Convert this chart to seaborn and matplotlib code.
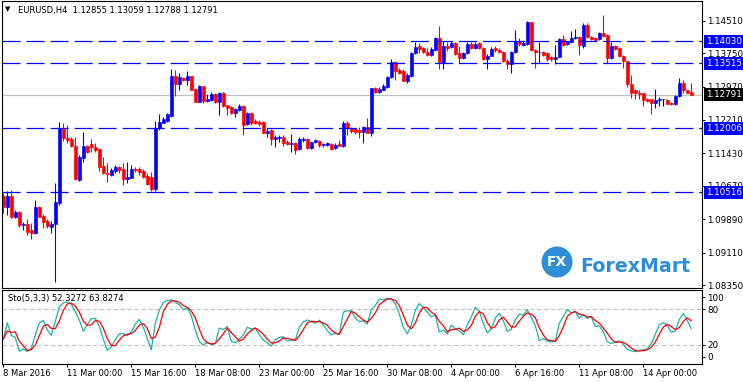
import numpy as np
import pandas as pd
import seaborn as sns
import matplotlib
matplotlib.use("Agg")
import matplotlib.pyplot as plt
from matplotlib.patches import Ellipse

sns.set_style("white", {"axes.edgecolor": "black"})
plt.rcParams['font.family'] = ['DejaVu Sans']
plt.rcParams['lines.scale_dashes'] = False

# EURUSD H4 candles
opens = [1.10431, 1.10167, 1.10431, 1.09950, 1.10058, 1.09756, 1.09787, 1.09639, 1.09577, 1.10167,
         1.09965, 1.09849, 1.09717, 1.09771, 1.10276, 1.12006, 1.11789, 1.11750, 1.11595, 1.10803,
         1.11323, 1.11595, 1.11641, 1.11572, 1.11517, 1.11129, 1.10974, 1.10912, 1.11013, 1.11106,
         1.11060, 1.10819, 1.10858, 1.11067, 1.11052, 1.11013, 1.10904, 1.10866, 1.10602, 1.12006,
         1.12139, 1.12178, 1.12302, 1.13231, 1.13043, 1.13176, 1.13121, 1.13215, 1.12926, 1.12630,
         1.12981, 1.12653, 1.12669, 1.12802, 1.12630, 1.12825, 1.12552, 1.12513, 1.12373, 1.12435,
         1.12529, 1.12100, 1.12373, 1.12185, 1.12162, 1.12162, 1.11889, 1.11967, 1.11747, 1.11770,
         1.11810, 1.11684, 1.11637, 1.11668, 1.11519, 1.11731, 1.11755, 1.11551, 1.11676, 1.11716,
         1.11614, 1.11614, 1.11637, 1.11551, 1.11637, 1.11598, 1.12124, 1.12006, 1.11982, 1.11967,
         1.11912, 1.12030, 1.11904, 1.12948, 1.12854, 1.12909, 1.12972, 1.13207, 1.13560, 1.13364,
         1.13340, 1.13105, 1.13226, 1.13749, 1.13913, 1.13866, 1.13788, 1.13718, 1.13835, 1.14100,
         1.13554, 1.13913, 1.13889, 1.13983, 1.13757, 1.13632, 1.13749, 1.13967, 1.13866, 1.13983,
         1.13866, 1.13616, 1.13694, 1.13866, 1.13835, 1.13772, 1.13577, 1.13499, 1.13772, 1.14030,
         1.13944, 1.13967, 1.14474, 1.13835, 1.13772, 1.13788, 1.13749, 1.13655, 1.13616, 1.13671,
         1.14084, 1.13967, 1.14006, 1.14100, 1.14139, 1.13928, 1.14420, 1.14139, 1.14108, 1.14084,
         1.14217, 1.14178, 1.13640, 1.13913, 1.13874, 1.13694, 1.13562, 1.13031, 1.12891, 1.12836,
         1.12821, 1.12696, 1.12680, 1.12602, 1.12665, 1.12680, 1.12665, 1.12602, 1.12563, 1.12759,
         1.13055, 1.12891, 1.12855]
highs = [1.10493, 1.10547, 1.10571, 1.10105, 1.10070, 1.09833, 1.09896, 1.09795, 1.10338, 1.10198,
         1.10012, 1.09888, 1.09841, 1.10726, 1.12146, 1.12123, 1.12084, 1.11797, 1.11797, 1.11385,
         1.11913, 1.11618, 1.11750, 1.11657, 1.11556, 1.11331, 1.11207, 1.11075, 1.11153, 1.11129,
         1.11207, 1.11222, 1.11153, 1.11114, 1.11098, 1.11052, 1.10974, 1.10997, 1.12177, 1.12334,
         1.12279, 1.12357, 1.13394, 1.13371, 1.13293, 1.13192, 1.13348, 1.13231, 1.12940, 1.13020,
         1.12995, 1.12802, 1.12841, 1.12825, 1.12848, 1.12848, 1.12560, 1.12520, 1.12474, 1.12575,
         1.12540, 1.12380, 1.12380, 1.12217, 1.12201, 1.12170, 1.12006, 1.11990, 1.11849, 1.11849,
         1.11849, 1.11731, 1.11865, 1.11692, 1.11810, 1.11794, 1.11770, 1.11692, 1.11763, 1.11731,
         1.11668, 1.11692, 1.11653, 1.11653, 1.11731, 1.12179, 1.12187, 1.12045, 1.12006, 1.12030,
         1.12061, 1.12242, 1.12948, 1.12964, 1.12964, 1.13026, 1.13223, 1.13615, 1.13576, 1.13419,
         1.13395, 1.13301, 1.13772, 1.14006, 1.13991, 1.13889, 1.13866, 1.13889, 1.14123, 1.14381,
         1.14030, 1.14006, 1.14045, 1.14006, 1.13913, 1.13772, 1.14006, 1.14006, 1.14006, 1.14006,
         1.13889, 1.13733, 1.13905, 1.13913, 1.13866, 1.13811, 1.13616, 1.13811, 1.14295, 1.14100,
         1.14045, 1.14513, 1.14474, 1.13850, 1.14006, 1.13811, 1.13772, 1.13694, 1.13944, 1.14100,
         1.14178, 1.14022, 1.14264, 1.14318, 1.14162, 1.14451, 1.14451, 1.14162, 1.14139, 1.14240,
         1.14646, 1.14200, 1.14006, 1.13944, 1.13905, 1.13710, 1.13577, 1.13242, 1.12915, 1.12891,
         1.12836, 1.12719, 1.12696, 1.12930, 1.12743, 1.12696, 1.12680, 1.12618, 1.12782, 1.13172,
         1.13125, 1.12891, 1.13059]
lows = [1.10027, 1.09989, 1.09911, 1.09911, 1.09717, 1.09639, 1.09523, 1.09430, 1.09546, 1.09934,
        1.09694, 1.09694, 1.09577, 1.08437, 1.10229, 1.11719, 1.11673, 1.11579, 1.10803, 1.10780,
        1.11230, 1.11440, 1.11463, 1.11463, 1.11013, 1.10935, 1.10765, 1.10897, 1.10959, 1.10974,
        1.10695, 1.10741, 1.10842, 1.10997, 1.10920, 1.10842, 1.10687, 1.10555, 1.10555, 1.11967,
        1.12123, 1.12162, 1.12279, 1.12747, 1.12887, 1.13098, 1.13020, 1.12887, 1.12614, 1.12614,
        1.12591, 1.12614, 1.12653, 1.12591, 1.12318, 1.12513, 1.12318, 1.12341, 1.12263, 1.12419,
        1.11850, 1.12084, 1.12084, 1.12100, 1.12068, 1.11889, 1.11795, 1.11616, 1.11574, 1.11692,
        1.11590, 1.11614, 1.11457, 1.11402, 1.11496, 1.11692, 1.11519, 1.11535, 1.11653, 1.11574,
        1.11574, 1.11590, 1.11496, 1.11535, 1.11590, 1.11574, 1.11849, 1.11888, 1.11865, 1.11770,
        1.11668, 1.11888, 1.11825, 1.12830, 1.12830, 1.12893, 1.12948, 1.13183, 1.13129, 1.13262,
        1.13105, 1.13066, 1.13203, 1.13733, 1.13749, 1.13749, 1.13694, 1.13694, 1.13811, 1.13398,
        1.13398, 1.13811, 1.13874, 1.13710, 1.13515, 1.13616, 1.13733, 1.13850, 1.13850, 1.13850,
        1.13600, 1.13398, 1.13679, 1.13772, 1.13749, 1.13554, 1.13382, 1.13304, 1.13749, 1.13928,
        1.13928, 1.13944, 1.13811, 1.13421, 1.13538, 1.13694, 1.13577, 1.13577, 1.13499, 1.13655,
        1.13928, 1.13944, 1.13991, 1.14084, 1.13718, 1.13866, 1.14108, 1.14061, 1.14045, 1.14061,
        1.14139, 1.13515, 1.13616, 1.13835, 1.13671, 1.13421, 1.12977, 1.12719, 1.12696, 1.12680,
        1.12524, 1.12618, 1.12329, 1.12485, 1.12524, 1.12524, 1.12563, 1.12548, 1.12548, 1.12743,
        1.12836, 1.12821, 1.12788]
closes = [1.10167, 1.10431, 1.09934, 1.10058, 1.09756, 1.09787, 1.09601, 1.09577, 1.10167, 1.09950,
          1.09833, 1.09740, 1.09779, 1.10284, 1.12006, 1.11773, 1.11735, 1.11590, 1.10819, 1.11331,
          1.11595, 1.11463, 1.11564, 1.11502, 1.11114, 1.10959, 1.10935, 1.11028, 1.11098, 1.11036,
          1.10819, 1.10873, 1.11052, 1.11028, 1.10997, 1.10866, 1.10710, 1.10586, 1.12006, 1.12162,
          1.12217, 1.12334, 1.13231, 1.13043, 1.13192, 1.13121, 1.13215, 1.12903, 1.12630, 1.12981,
          1.12653, 1.12692, 1.12802, 1.12614, 1.12825, 1.12536, 1.12474, 1.12357, 1.12458, 1.12529,
          1.12084, 1.12357, 1.12123, 1.12123, 1.12100, 1.11905, 1.11951, 1.11749, 1.11810, 1.11802,
          1.11668, 1.11637, 1.11653, 1.11511, 1.11755, 1.11755, 1.11551, 1.11684, 1.11731, 1.11614,
          1.11637, 1.11653, 1.11535, 1.11629, 1.11598, 1.12124, 1.12006, 1.11951, 1.11928, 1.11912,
          1.12030, 1.11904, 1.12948, 1.12854, 1.12932, 1.12987, 1.13207, 1.13560, 1.13340, 1.13301,
          1.13105, 1.13246, 1.13749, 1.13905, 1.13850, 1.13772, 1.13718, 1.13850, 1.14100, 1.13554,
          1.13913, 1.13866, 1.13983, 1.13733, 1.13632, 1.13749, 1.13967, 1.13866, 1.13967, 1.13866,
          1.13616, 1.13694, 1.13850, 1.13835, 1.13772, 1.13577, 1.13499, 1.13772, 1.14030, 1.13967,
          1.13991, 1.14474, 1.13835, 1.13772, 1.13788, 1.13718, 1.13616, 1.13616, 1.13671, 1.14084,
          1.13952, 1.14006, 1.14100, 1.14139, 1.13944, 1.14420, 1.14123, 1.14084, 1.14061, 1.14217,
          1.14162, 1.13640, 1.13913, 1.13850, 1.13694, 1.13562, 1.13031, 1.12836, 1.12836, 1.12797,
          1.12665, 1.12641, 1.12602, 1.12665, 1.12680, 1.12680, 1.12579, 1.12563, 1.12759, 1.13055,
          1.12891, 1.12836, 1.12791]

level_prices = [1.14030, 1.13515, 1.12006, 1.10516]
level_labels = ['1.14030', '1.13515', '1.12006', '1.10516']
last_price = 1.12791
price_ticks = [1.14510, 1.13750, 1.12970, 1.12210, 1.11430, 1.10670, 1.09890, 1.09110, 1.08350]
price_tick_labels = ['1.14510', '1.13750', '1.12970', '1.12210', '1.11430', '1.10670',
                     '1.09890', '1.09110', '1.08350']
date_tick_bars = [0, 16, 32, 48, 64, 80, 96, 112, 128, 144, 160]
date_tick_labels = ['8 Mar 2016', '11 Mar 00:00', '15 Mar 16:00', '18 Mar 08:00', '23 Mar 00:00',
                    '25 Mar 16:00', '30 Mar 08:00', '4 Apr 00:00', '6 Apr 16:00', '11 Apr 08:00',
                    '14 Apr 00:00']
title_text = 'EURUSD,H4  1.12855 1.13059 1.12788 1.12791'
sto_text = 'Sto(5,3,3) 52.3272 63.8274'

df = pd.DataFrame({'open': opens, 'high': highs, 'low': lows, 'close': closes})
df['bar'] = np.arange(len(df))

# Stochastic(5,3,3) from the candles
hh = df['high'].rolling(5, min_periods=1).max()
ll = df['low'].rolling(5, min_periods=1).min()
df['k'] = 100 * (df['close'] - ll).rolling(3, min_periods=1).sum() / (hh - ll).rolling(3, min_periods=1).sum()
df['d'] = df['k'].rolling(3, min_periods=1).mean()

W, H = 743, 382
fig = plt.figure(figsize=(W / 100, H / 100), dpi=100)
ax = fig.add_axes([2.3 / W, 1 - 288 / H, 699.2 / W, 287 / H])
ax2 = fig.add_axes([2.3 / W, 1 - 364 / H, 699.2 / W, 74 / H])

BLUE = '#0000ff'
RED = '#ff0000'
colors = np.where(df['close'] > df['open'], BLUE, np.where(df['close'] < df['open'], RED, 'black'))

ax.axhline(last_price, color='#c0c0c0', lw=0.9, zorder=1)
ax.vlines(df['bar'], df['low'], df['high'], colors=colors, lw=0.8, zorder=2)
body_bottom = np.minimum(df['open'], df['close'])
body_h = np.maximum(np.abs(df['close'] - df['open']), 0.00003)
ax.bar(df['bar'], body_h, bottom=body_bottom, width=0.62, color=colors,
       edgecolor=colors, linewidth=0.45, zorder=2)
for p in level_prices:
    ax.axhline(p, color=BLUE, lw=0.9, linestyle=(0, (13.0, 4.3)), zorder=3)

ax.set_xlim(-0.25, 174.55)
ax.set_ylim(1.08288, 1.14970)
ax.set_xticks([])
ax.yaxis.tick_right()
ax.set_yticks(price_ticks)
ax.set_yticklabels(price_tick_labels)
ax.tick_params(axis='y', right=True, direction='out', length=2.5, width=0.7,
               labelsize=6.3, pad=1.5, colors='black')
for lab in ax.get_yticklabels():
    lab.set_ha('left')
for s in ax.spines.values():
    s.set_linewidth(0.8)
    s.set_color('black')

ytrans = ax.get_yaxis_transform()
for p, lab in zip(level_prices, level_labels):
    ax.text(1.0066, p, lab, transform=ytrans, ha='left', va='center', fontsize=6.3,
            color='white', zorder=5,
            bbox=dict(boxstyle='square,pad=0.2', fc=BLUE, ec='none'))
ax.text(1.0066, last_price, '1.12791', transform=ytrans, ha='left', va='center', fontsize=6.3,
        color='white', zorder=5, bbox=dict(boxstyle='square,pad=0.2', fc='black', ec='none'))

# stochastic panel
sns.lineplot(data=df, x='bar', y='k', ax=ax2, color='#20b2aa', lw=0.9)
sns.lineplot(data=df, x='bar', y='d', ax=ax2, color=RED, lw=0.9)
for lv in (20, 80):
    ax2.axhline(lv, color='#c0c0c0', lw=0.8, linestyle=(0, (3.0, 2.0)), zorder=0)
ax2.set_xlim(-0.25, 174.55)
ax2.set_ylim(-11.67, 111.67)
ax2.set_xlabel('')
ax2.set_ylabel('')
ax2.yaxis.tick_right()
ax2.set_yticks([0, 20, 80, 100])
ax2.set_yticklabels(['0', '20', '80', '100'])
ax2.set_xticks(date_tick_bars)
ax2.set_xticklabels(date_tick_labels)
ax2.tick_params(axis='y', right=True, direction='out', length=2.5, width=0.7,
                labelsize=6.3, pad=1.5, colors='black')
ax2.tick_params(axis='x', bottom=True, direction='out', length=2.5, width=0.7,
                labelsize=6.0, pad=1.0, colors='black')
for lab in ax2.get_yticklabels():
    lab.set_ha('left')
for lab in ax2.get_xticklabels():
    lab.set_ha('left')
for s in ax2.spines.values():
    s.set_linewidth(0.8)
    s.set_color('black')

# header texts
fig.text(5 / W, 1 - 9.5 / H, '\u25bc', fontsize=5, va='center', ha='left', color='black')
fig.text(18 / W, 1 - 10 / H, title_text, fontsize=6.0, va='center', ha='left', color='black')
fig.text(8 / W, 1 - 298 / H, sto_text, fontsize=6.0, va='center', ha='left', color='black')

# ForexMart logo
logo_blue = '#2f8fd6'
fig.patches.append(Ellipse((557 / W, 1 - 262 / H), 31 / W, 31 / H, transform=fig.transFigure,
                           facecolor=logo_blue, edgecolor='none', zorder=6))
fig.text(557 / W, 1 - 262 / H, 'FX', fontsize=10, fontweight='bold', color='white',
         ha='center', va='center', zorder=7)
fig.text(580 / W, 1 - 266 / H, 'ForexMart', fontsize=13.7, fontweight='bold', color=logo_blue,
         ha='left', va='center', zorder=7)

fig.savefig('out.png', dpi=100)
